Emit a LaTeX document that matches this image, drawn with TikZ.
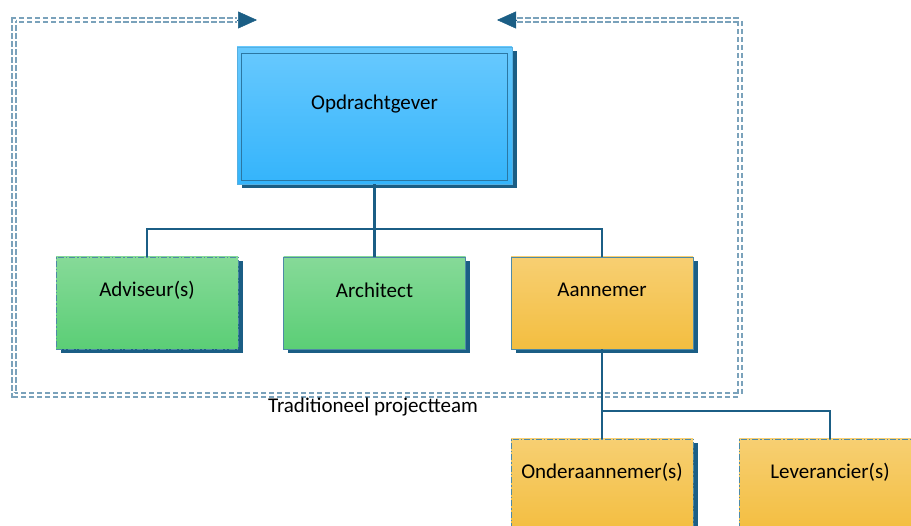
\documentclass[tikz,border=0pt]{standalone}
\usepackage{fontspec}
\setmainfont{Carlito}
\usetikzlibrary{arrows.meta,shadows}

\definecolor{linkblue}{HTML}{1B5E85}
\definecolor{teamgrey}{HTML}{7AA2BB}
\definecolor{blueTop}{HTML}{68C9FE}
\definecolor{blueBot}{HTML}{34B4FB}
\definecolor{blueEdge}{HTML}{55B0E2}
\definecolor{blueInner}{HTML}{2B77A3}
\definecolor{greenTop}{HTML}{86DA98}
\definecolor{greenBot}{HTML}{5BCE76}
\definecolor{orangeTop}{HTML}{F7CF72}
\definecolor{orangeBot}{HTML}{F3BE40}
\definecolor{boxEdge}{HTML}{4E8AA6}

\tikzset{
  box/.style={rectangle, minimum width=182pt, minimum height=92pt, inner sep=0pt,
    line width=0.9pt, draw=boxEdge,
    drop shadow={shadow xshift=4.5pt, shadow yshift=-4.5pt, fill=linkblue, opacity=1}},
  greenbox/.style={box, top color=greenTop, bottom color=greenBot},
  orangebox/.style={box, top color=orangeTop, bottom color=orangeBot},
  dashdot/.style={dash pattern=on 6pt off 2pt on 1.5pt off 2pt},
  boxtext/.style={font=\fontsize{21}{25}\selectfont, text=black},
  conn/.style={draw=linkblue, line width=2.4pt},
  teamline/.style={draw=teamgrey, line width=1.3pt, double=white, double distance=2.6pt,
    dash pattern=on 5.5pt off 2.5pt},
  headtip/.style={draw=linkblue, fill=linkblue, line width=0.5pt,
    -{Triangle[length=19pt,width=17pt]}},
}

\begin{document}
\begin{tikzpicture}[x=1pt, y=-1pt]
\useasboundingbox (0,0) rectangle (911,526);
\clip (0,0) rectangle (911,526);

% project team boundary with its two arrowheads
\coordinate (tipL) at (257,20);
\coordinate (baseL) at (237,20);
\coordinate (tipR) at (497,20);
\coordinate (baseR) at (517,20);
\coordinate (cNE) at (740,20);
\coordinate (cSE) at (740,395);
\coordinate (cSW) at (14,395);
\coordinate (cNW) at (14,20);
\draw[teamline] (baseR) -- (cNE) -- (cSE) -- (cSW) -- (cNW) -- (baseL);
\draw[headtip] (baseL) -- (tipL);
\draw[headtip] (baseR) -- (tipR);
\node[boxtext] (team) at (373,407) {Traditioneel projectteam};

% client
\node[box, minimum width=275pt, minimum height=137pt, draw=blueEdge,
      top color=blueTop, bottom color=blueBot,
      label={[boxtext, yshift=11.5pt]center:Opdrachtgever}] (og) at (374.5,115.5) {};
\draw[blueInner, line width=0.9pt]
  ([shift={(5pt,-6.5pt)}]og.north west) rectangle ([shift={(-5pt,4pt)}]og.south east);

% project team members
\node[greenbox, dashdot, label={[boxtext, yshift=13pt]center:Adviseur(s)}] (adv) at (147,303) {};
\node[greenbox, label={[boxtext, yshift=13pt]center:Architect}] (arc) at (374.5,303) {};
\node[orangebox, label={[boxtext, yshift=13pt]center:Aannemer}] (ann) at (602,303) {};

% contractor's partners
\node[orangebox, dashdot, label={[boxtext, yshift=13pt]center:Onderaannemer(s)}] (ond) at (602,485) {};
\node[orangebox, dashdot, label={[boxtext, yshift=13pt]center:Leverancier(s)}] (lev) at (830,485) {};

% organisation lines
\coordinate (bus1) at (374.5,229);
\coordinate (bus2) at (602,411);
\draw[conn] (og.south) -- (bus1);
\draw[conn] (adv.north) |- (bus1) -| (ann.north);
\draw[conn] (bus1) -- (arc.north);
\draw[conn] (ann.south) -- (bus2) -| (lev.north);
\draw[conn] (bus2) -- (ond.north);
\end{tikzpicture}
\end{document}
